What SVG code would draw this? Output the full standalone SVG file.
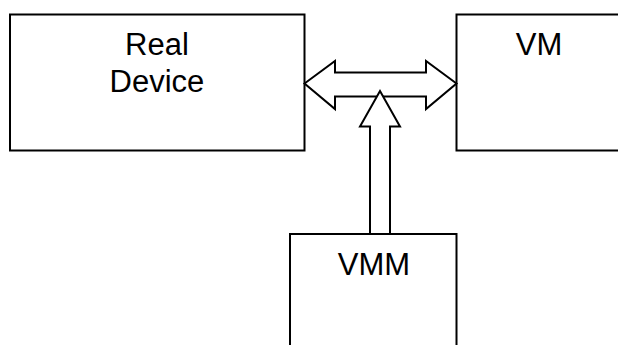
<svg xmlns="http://www.w3.org/2000/svg" width="618" height="345" viewBox="0 0 618 345">
<style>
.box{fill:#fff;stroke:#000;stroke-width:2}
.arr{fill:#fff;stroke:#000;stroke-width:2;stroke-linejoin:miter}
.lbl{font-family:"Liberation Sans",Arial,sans-serif;font-size:31px;fill:#000;text-anchor:middle}
</style>
<rect width="618" height="345" fill="#fff"/>
<g id="real-device">
<rect class="box" x="10" y="14.5" width="294.5" height="136"/>
<text class="lbl" x="157" y="55">Real</text>
<text class="lbl" x="157" y="91.5">Device</text>
</g>
<g id="vm">
<rect class="box" x="456.5" y="14.5" width="170" height="136"/>
<text class="lbl" x="539" y="55">VM</text>
</g>
<g id="vmm">
<rect class="box" x="290" y="234" width="166.5" height="130"/>
<text class="lbl" x="374" y="274.5">VMM</text>
</g>
<g id="connectors">
<polygon class="arr" points="304.5,83.5 335,61 335,72.5 426,72.5 426,61 456.5,83.5 426,109 426,96.5 335,96.5 335,109"/>
<polygon class="arr" points="380,91 400,126.5 390,126.5 390,234 370,234 370,126.5 360,126.5"/>
</g>
</svg>
